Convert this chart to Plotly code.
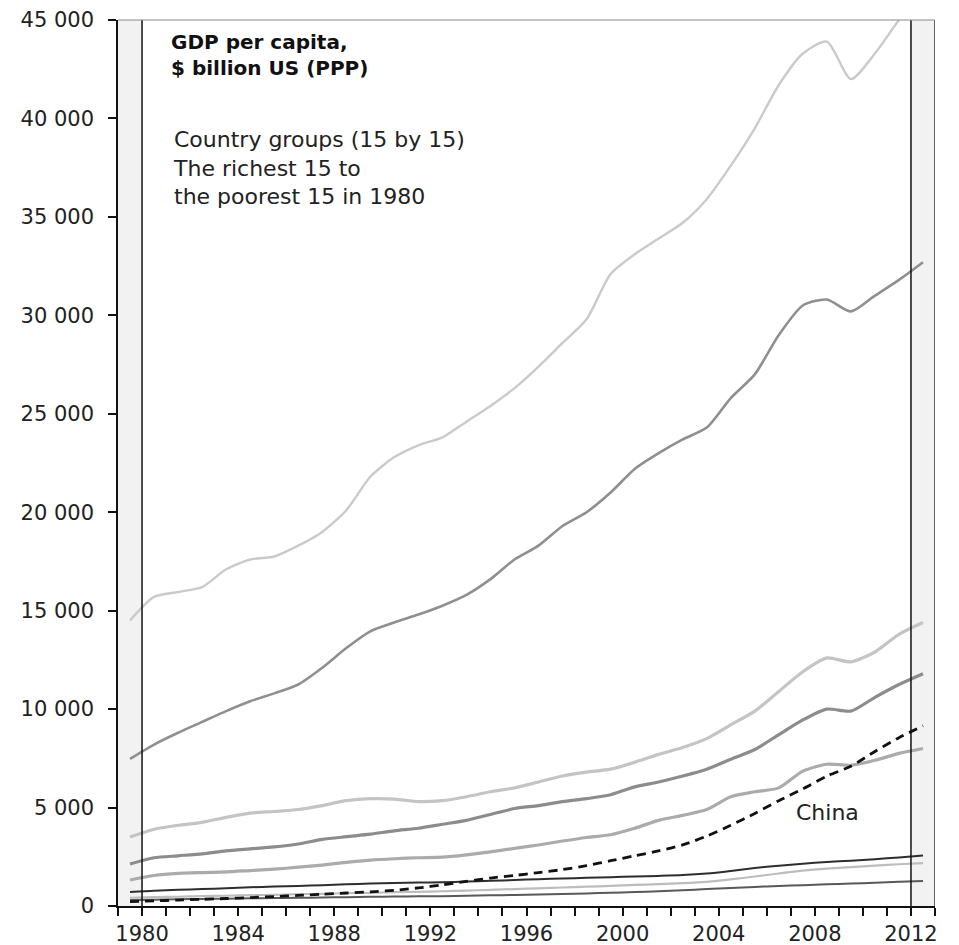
import plotly.graph_objects as go

years = list(range(1980, 2014))

group_1 = [14500, 15700, 15950, 16200, 17100, 17600, 17750, 18300, 19000, 20100,
           21800, 22800, 23400, 23800, 24600, 25400, 26300, 27400, 28600, 29800,
           32100, 33100, 33900, 34700, 35900, 37600, 39500, 41700, 43300, 43900,
           42000, 43300, 45000, 46500]
group_2 = [7470, 8200, 8800, 9350, 9900, 10400, 10800, 11250, 12100, 13100,
           13950, 14400, 14800, 15250, 15800, 16600, 17600, 18300, 19300, 20000,
           21000, 22200, 23000, 23700, 24300, 25800, 27000, 29000, 30500, 30800,
           30200, 31000, 31800, 32700]
group_3 = [3500, 3900, 4100, 4250, 4500, 4720, 4800, 4900, 5100, 5350,
           5450, 5430, 5300, 5350, 5550, 5800, 6000, 6300, 6600, 6800,
           6950, 7300, 7700, 8050, 8500, 9200, 9900, 10900, 11900, 12600,
           12400, 12900, 13800, 14400]
group_4 = [2130, 2450, 2550, 2650, 2800, 2900, 3000, 3150, 3380, 3520,
           3650, 3820, 3950, 4150, 4350, 4650, 4950, 5100, 5300, 5450,
           5650, 6050, 6300, 6600, 6950, 7450, 7950, 8700, 9450, 10000,
           9900, 10600, 11250, 11800]
group_5 = [1320, 1550, 1660, 1700, 1730, 1800, 1870, 1970, 2080, 2220,
           2330, 2400, 2450, 2480, 2600, 2750, 2930, 3100, 3300, 3480,
           3620, 3950, 4350, 4600, 4900, 5550, 5800, 6000, 6850, 7200,
           7150, 7400, 7750, 8000]
group_6 = [710, 780, 820, 860, 900, 950, 990, 1020, 1060, 1100,
           1140, 1170, 1190, 1210, 1240, 1280, 1320, 1360, 1400, 1430,
           1460, 1500, 1530, 1570, 1650, 1780, 1930, 2050, 2150, 2240,
           2300, 2380, 2460, 2560]
group_7 = [420, 450, 470, 500, 520, 550, 570, 600, 620, 650,
           670, 700, 720, 750, 780, 820, 860, 900, 940, 980,
           1020, 1070, 1110, 1160, 1230, 1350, 1500, 1650, 1800, 1900,
           1970, 2050, 2120, 2180]
group_8 = [300, 320, 340, 360, 370, 390, 400, 420, 430, 450,
           470, 480, 490, 500, 520, 540, 560, 580, 610, 640,
           670, 710, 750, 800, 860, 920, 970, 1020, 1060, 1100,
           1140, 1180, 1230, 1270]
china = [220, 260, 300, 340, 380, 430, 480, 540, 600, 660,
         720, 800, 920, 1070, 1250, 1420, 1550, 1700, 1850, 2050,
         2300, 2550, 2800, 3100, 3550, 4100, 4700, 5350, 5950, 6600,
         7100, 7850, 8550, 9150]

y_ticks = [0, 5000, 10000, 15000, 20000, 25000, 30000, 35000, 40000, 45000]
x_label_years = [1980, 1984, 1988, 1992, 1996, 2000, 2004, 2008, 2012]

title_text = "<b>GDP per capita,<br>$ billion US (PPP)</b>"
note_text = "Country groups (15 by 15)<br>The richest 15 to<br>the poorest 15 in 1980"
china_label = "China"

FONT = "DejaVu Sans"
x_pos = [y - 0.5 for y in years]

series = [
    (group_1, "#cacaca", 2.4, "solid"),
    (group_2, "#8f8f8f", 2.6, "solid"),
    (group_3, "#c4c4c4", 3.2, "solid"),
    (group_4, "#8c8c8c", 3.2, "solid"),
    (group_5, "#ababab", 3.2, "solid"),
    (group_6, "#2e2e2e", 2.0, "solid"),
    (group_7, "#bdbdbd", 2.2, "solid"),
    (group_8, "#595959", 2.0, "solid"),
    (china, "#111111", 2.8, "9px,6px"),
]

fig = go.Figure()
for vals, col, w, dash in series:
    fig.add_trace(go.Scatter(x=x_pos, y=vals, mode="lines",
                             line=dict(color=col, width=w, dash=dash,
                                       shape="spline", smoothing=0.7),
                             showlegend=False, hoverinfo="skip"))

shapes = [
    dict(type="rect", xref="x", yref="paper", x0=1979, x1=1980, y0=0, y1=1,
         fillcolor="#f2f2f2", line=dict(width=0), layer="below"),
    dict(type="rect", xref="x", yref="paper", x0=2012, x1=2013, y0=0, y1=1,
         fillcolor="#f2f2f2", line=dict(width=0), layer="below"),
    dict(type="line", xref="x", yref="paper", x0=1980, x1=1980, y0=0, y1=1,
         line=dict(color="#111111", width=1.5)),
    dict(type="line", xref="x", yref="paper", x0=2012, x1=2012, y0=0, y1=1,
         line=dict(color="#111111", width=1.5)),
    dict(type="line", xref="x", yref="paper", x0=2013, x1=2013, y0=0, y1=1,
         line=dict(color="#333333", width=1.5)),
    dict(type="line", xref="paper", yref="paper", x0=0, x1=1, y0=1, y1=1,
         line=dict(color="#8a8a8a", width=1)),
]

annotations = [
    dict(xref="paper", yref="paper", x=0.063, y=0.991, xanchor="left", yanchor="top",
         text=title_text, showarrow=False, align="left",
         font=dict(family=FONT, size=20, color="#111111")),
    dict(xref="paper", yref="paper", x=0.065, y=0.882, xanchor="left", yanchor="top",
         text=note_text, showarrow=False, align="left",
         font=dict(family=FONT, size=22, color="#222222")),
    dict(xref="paper", yref="paper", x=0.869, y=0.105, xanchor="center", yanchor="middle",
         text=china_label, showarrow=False,
         font=dict(family=FONT, size=22, color="#222222")),
]

fig.update_layout(
    width=959, height=945,
    margin=dict(l=118, r=24, t=20, b=39, autoexpand=False),
    paper_bgcolor="white", plot_bgcolor="white",
    separators=". ",
    shapes=shapes, annotations=annotations,
    showlegend=False,
    xaxis=dict(range=[1979, 2013], tickvals=x_label_years,
               ticktext=[str(v) for v in x_label_years], automargin=False,
               ticks="outside", ticklen=8, tickwidth=1.5, tickcolor="#111111",
               showline=True, linecolor="#111111", linewidth=1.5,
               showgrid=False, zeroline=False,
               minor=dict(dtick=1, tick0=1980, ticks="outside", ticklen=8,
                          tickwidth=1.5, tickcolor="#111111", showgrid=False),
               tickfont=dict(family=FONT, size=21, color="#222222")),
    yaxis=dict(range=[0, 45000], tickvals=y_ticks, tickformat=",d", automargin=False,
               ticks="outside", ticklen=8, tickwidth=1.5, tickcolor="#111111",
               showline=True, linecolor="#111111", linewidth=1.5,
               showgrid=False, zeroline=False, ticklabelstandoff=10,
               tickfont=dict(family=FONT, size=21, color="#222222")),
)

fig.write_html("out.html", config={"displayModeBar": False},
               post_script="document.body.style.margin='0';document.body.style.overflow='hidden';")
